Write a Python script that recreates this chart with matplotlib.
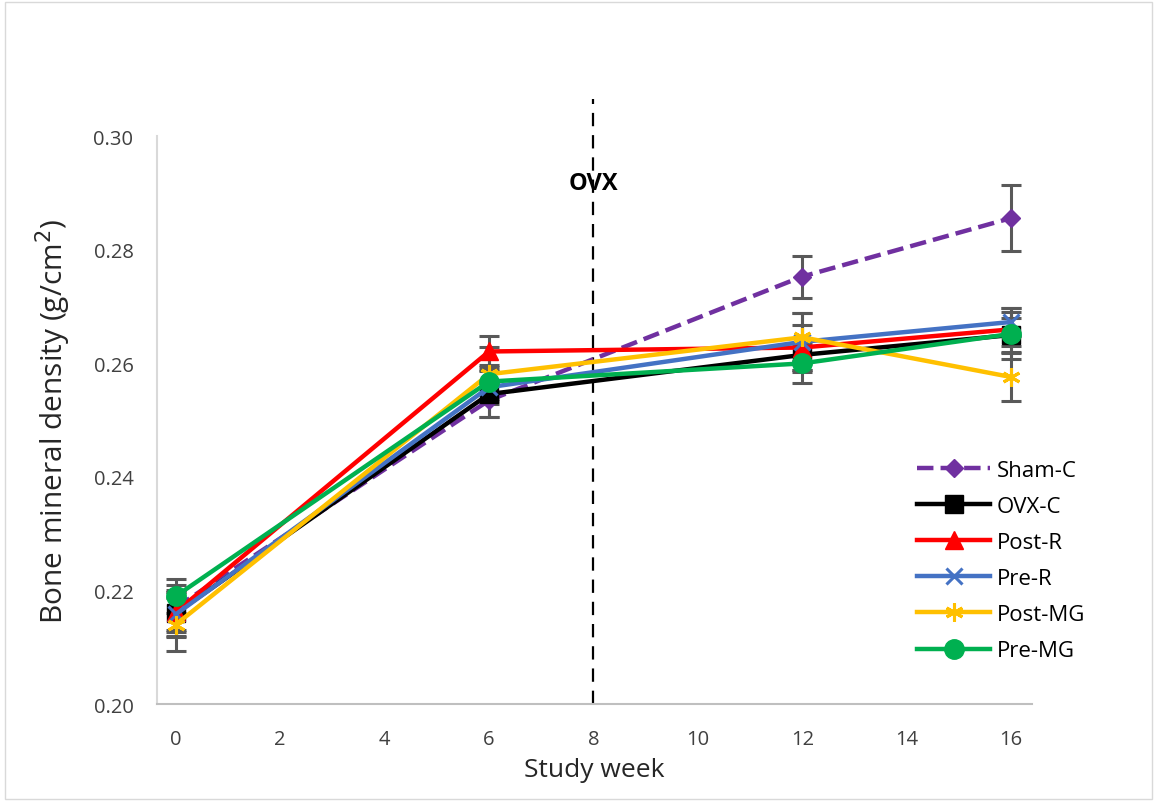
import matplotlib.pyplot as plt
from matplotlib.patches import Rectangle

plt.rcParams['font.family'] = ['Open Sans', 'DejaVu Sans']

weeks = [0, 6, 12, 16]
series = ['Sham-C', 'OVX-C', 'Post-R', 'Pre-R', 'Post-MG', 'Pre-MG']
sham_c = [0.2170, 0.2535, 0.2753, 0.2856]
ovx_c = [0.2160, 0.2546, 0.2615, 0.2650]
post_r = [0.2162, 0.2621, 0.2628, 0.2660]
pre_r = [0.2158, 0.2558, 0.2638, 0.2673]
post_mg = [0.2140, 0.2581, 0.2646, 0.2576]
pre_mg = [0.2190, 0.2568, 0.2600, 0.2652]

sham_err = [0.0040, 0.0030, 0.0037, 0.0058]
ovx_err = [0.0040, 0.0041, 0.0030, 0.0030]
post_r_err = [0.0035, 0.0027, 0.0040, 0.0030]
pre_r_err = [0.0040, 0.0030, 0.0050, 0.0025]
post_mg_err = [0.0047, 0.0048, 0.0042, 0.0042]
pre_mg_err = [0.0030, 0.0030, 0.0035, 0.0045]

values = [sham_c, ovx_c, post_r, pre_r, post_mg, pre_mg]
errors = [sham_err, ovx_err, post_r_err, pre_r_err, post_mg_err, pre_mg_err]
colors = ['#7030A0', '#000000', '#FF0000', '#4472C4', '#FFC000', '#00B050']
markers = ['D', 's', '^', 'x', (6, 2, 0), 'o']
sizes = [9, 13, 13, 12, 13, 14]
styles = ['--', '-', '-', '-', '-', '-']

fig = plt.figure(figsize=(11.57, 8.03), dpi=100)
ax = fig.add_axes([0.1357, 0.122, 0.7563, 0.707])

for name, y, e, c, m, s, ls in zip(series, values, errors, colors, markers, sizes, styles):
    ax.errorbar(weeks, y, yerr=e, fmt='none', ecolor='#595959', elinewidth=2.2,
                capsize=7, capthick=2.2, zorder=2)
    mew = 2.2 if m in ('x', (6, 2, 0)) else 1
    ax.plot(weeks, y, linestyle=ls, color=c, lw=3.2, marker=m, markersize=s,
            markeredgewidth=mew, label=name, zorder=3)

ax.plot([8, 8], [0.2, 0.3065], color='black', lw=1.6, dashes=(6, 4), clip_on=False, zorder=1)
ax.text(8, 0.2918, 'OVX', ha='center', va='center', fontsize=17, fontweight='bold')

ax.set_xlim(-0.36, 16.4)
ax.set_ylim(0.20, 0.30)
ax.set_xticks(range(0, 17, 2))
ax.set_yticks([0.20, 0.22, 0.24, 0.26, 0.28, 0.30])
ax.set_yticklabels(['0.20', '0.22', '0.24', '0.26', '0.28', '0.30'])
ax.tick_params(labelsize=14.5, colors='#404040', length=0)
ax.tick_params(axis='y', pad=17)
ax.tick_params(axis='x', pad=18)
ax.spines['top'].set_visible(False)
ax.spines['right'].set_visible(False)
ax.spines['left'].set_color('#D9D9D9')
ax.spines['bottom'].set_color('#BFBFBF')
ax.spines['left'].set_linewidth(1.5)
ax.spines['bottom'].set_linewidth(1.5)

ax.set_xlabel('Study week', fontsize=19, color='#262626', labelpad=6)
ax.set_ylabel('Bone mineral density (g/cm$^2$)', fontsize=21.5, color='#262626', labelpad=15)

ax.legend(loc='upper left', bbox_to_anchor=(0.783, 0.44), bbox_transform=fig.transFigure,
          frameon=False, fontsize=16, handlelength=3.3, labelspacing=0.68,
          handletextpad=0.3, borderpad=0)

fig.patches.append(Rectangle((0.004, 0.004), 0.992, 0.992, transform=fig.transFigure,
                             fill=False, edgecolor='#D9D9D9', lw=1))

fig.savefig('out.png', dpi=100)
